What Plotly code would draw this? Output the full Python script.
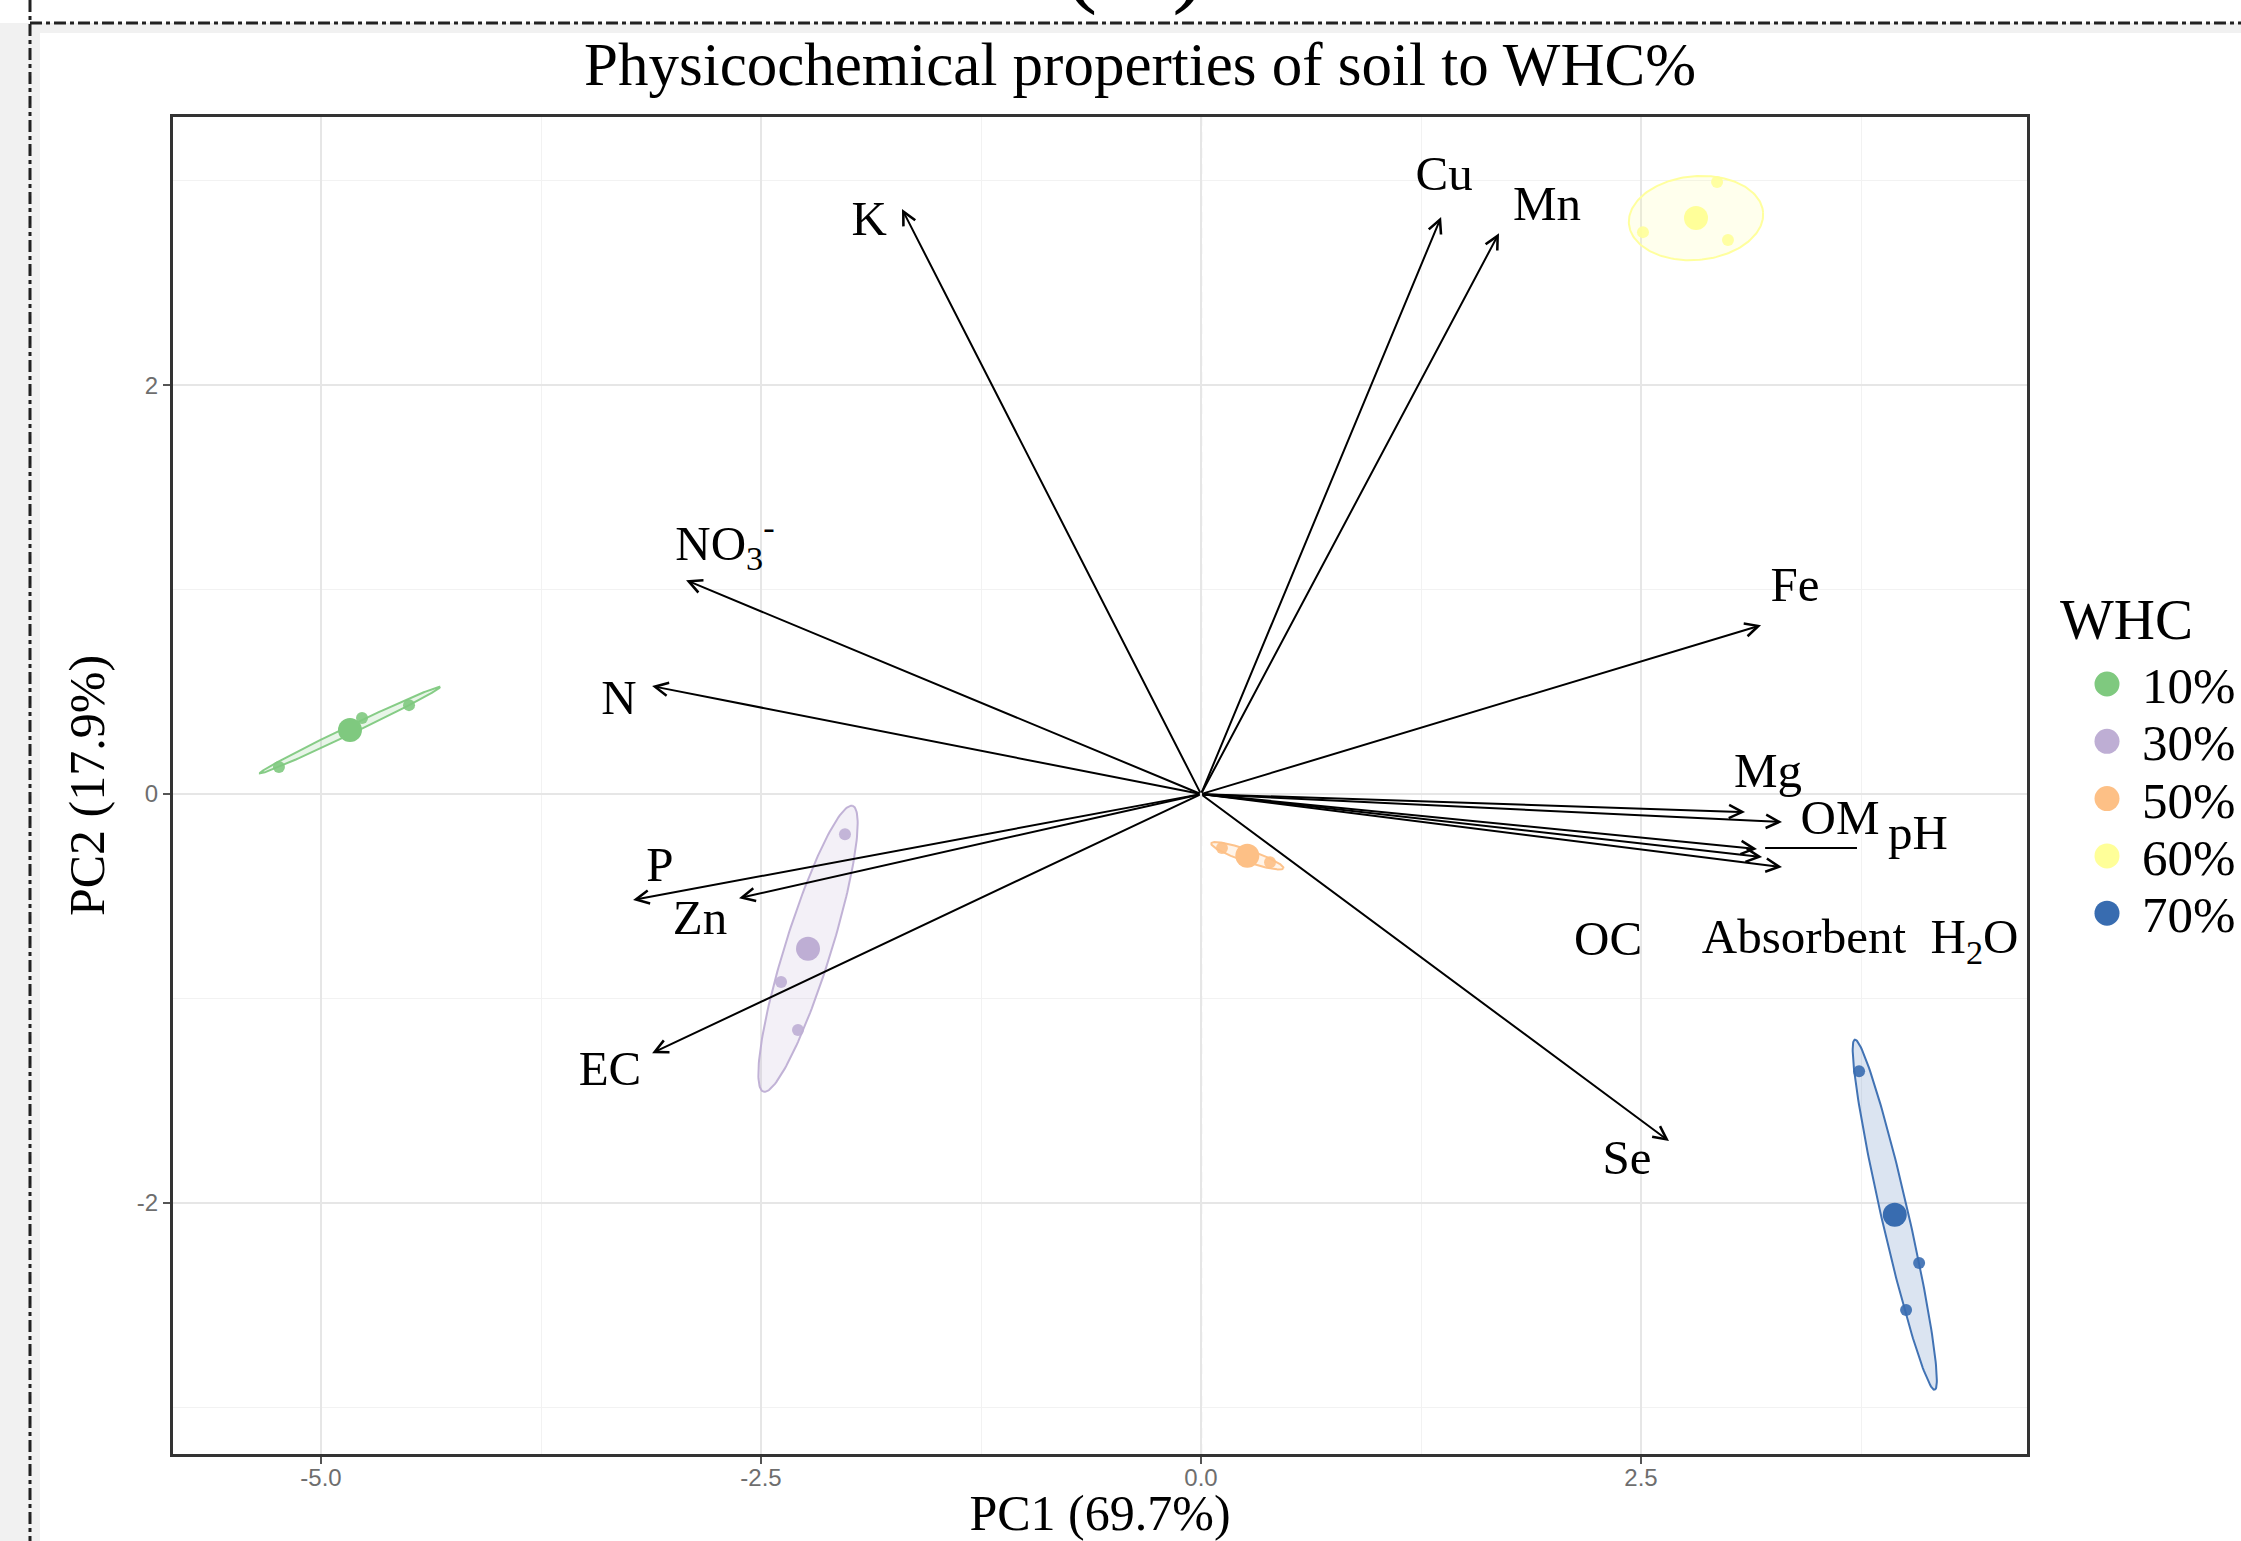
import numpy as np
import plotly.graph_objects as go

# ------------------------------------------------------------------ data
groups = ["10%", "30%", "50%", "60%", "70%"]
group_colors = ["#7FC97F", "#BEAED4", "#FDC086", "#FFFF99", "#386CB0"]

# individual samples (PC1, PC2) per WHC group
sample_pc1 = [
    [-5.239, -4.767, -4.500],
    [-2.023, -2.386, -2.290],
    [0.119, 0.278, 0.392],
    [2.511, 2.994, 2.932],
    [3.739, 4.080, 4.006],
]
sample_pc2 = [
    [0.132, 0.372, 0.435],
    [-0.196, -0.919, -1.154],
    [-0.264, -0.308, -0.333],
    [2.748, 2.709, 2.993],
    [-1.355, -2.293, -2.523],
]

# confidence ellipses: half-axis vectors (PC1, PC2) around the group mean
ellipse_major = [(0.512, 0.211), (0.253, 0.699), (0.205, -0.061), (0.381, 0.029), (0.227, -0.856)]
ellipse_minor = [(0.0098, -0.0177), (0.125, -0.033), (-0.0112, -0.0277), (0.021, -0.204), (0.075, 0.0147)]

# variable loadings (arrow tips)
var_labels = ["K", "Cu", "Mn", "NO<sub>3</sub><sup>-</sup>", "Fe", "N", "Mg", "OM", "pH", "OC",
              "Absorbent  H<sub>2</sub>O", "P", "Zn", "EC", "Se"]
load_pc1 = [-1.699, 1.364, 1.693, -2.926, 3.182, -3.119, 3.091, 3.301, 3.159, 3.188, 3.301, -3.227, -2.625, -3.119, 2.659]
load_pc2 = [2.861, 2.822, 2.743, 1.046, 0.826, 0.528, -0.088, -0.137, -0.269, -0.308, -0.357, -0.518, -0.509, -1.267, -1.697]

# repelled label positions
label_pc1 = [-1.886, 1.381, 1.966, -2.705, 3.375, -3.307, 3.222, 3.631, 4.074, 2.313, 3.745, -3.074, -2.847, -3.358, 2.420]
label_pc2 = [2.792, 3.012, 2.865, 1.207, 1.002, 0.454, 0.097, -0.137, -0.211, -0.729, -0.719, -0.367, -0.626, -1.365, -1.800]

# connector segment for the pH label
ph_segment_pc1 = [3.205, 3.727]
ph_segment_pc2 = [-0.264, -0.264]

x_tick_vals = [-5.0, -2.5, 0.0, 2.5]
x_tick_text = ["-5.0", "-2.5", "0.0", "2.5"]
y_tick_vals = [-2, 0, 2]
y_tick_text = ["-2", "0", "2"]

x_range = [-5.841, 4.693]
y_range = [-3.227, 3.311]

title_text = "Physicochemical properties of soil to WHC%"
x_title = "PC1 (69.7%)"
y_title = "PC2 (17.9%)"
legend_title = "WHC"
caption_fragment = "(   )"

# ------------------------------------------------------------------ layout geometry
W, H = 2241, 1541
L, R, T, B = 173, 214, 117, 87
PW, PH = W - L - R, H - T - B


def px_x(px):
    return (px - L) / PW


def px_y(py):
    return (H - B - py) / PH


SERIF = "Liberation Serif, Times New Roman, serif"
SANS = "Liberation Sans, Arial, sans-serif"


def rgba(hexc, a):
    h = hexc.lstrip("#")
    return "rgba(%d,%d,%d,%s)" % (int(h[0:2], 16), int(h[2:4], 16), int(h[4:6], 16), a)


fig = go.Figure()

t = np.linspace(0, 2 * np.pi, 181)
for i, g in enumerate(groups):
    cx = float(np.mean(sample_pc1[i]))
    cy = float(np.mean(sample_pc2[i]))
    ax_, ay_ = ellipse_major[i]
    bx_, by_ = ellipse_minor[i]
    ex = cx + ax_ * np.cos(t) + bx_ * np.sin(t)
    ey = cy + ay_ * np.cos(t) + by_ * np.sin(t)
    fig.add_trace(go.Scatter(
        x=ex, y=ey, mode="lines", fill="toself",
        fillcolor=rgba(group_colors[i], 0.18),
        line=dict(color=rgba(group_colors[i], 0.95), width=2),
        hoverinfo="skip", showlegend=False, legendgroup=g))
    fig.add_trace(go.Scatter(
        x=sample_pc1[i], y=sample_pc2[i], mode="markers",
        marker=dict(color=group_colors[i], size=12, opacity=0.9),
        showlegend=False, legendgroup=g, name=g))
    fig.add_trace(go.Scatter(
        x=[cx], y=[cy], mode="markers",
        marker=dict(color=group_colors[i], size=24),
        showlegend=False, legendgroup=g, name=g))

# pH connector
fig.add_trace(go.Scatter(x=ph_segment_pc1, y=ph_segment_pc2, mode="lines",
                         line=dict(color="black", width=2), hoverinfo="skip", showlegend=False))

# variable labels
fig.add_trace(go.Scatter(
    x=label_pc1, y=label_pc2, mode="text", text=var_labels,
    textposition="middle center",
    textfont=dict(family=SERIF, size=49, color="black"),
    cliponaxis=True, hoverinfo="skip", showlegend=False))

annotations = []
for x1, y1 in zip(load_pc1, load_pc2):
    annotations.append(dict(
        x=x1, y=y1, ax=0, ay=0, xref="x", yref="y", axref="x", ayref="y",
        text="", showarrow=True, arrowhead=5, arrowsize=1.3, arrowwidth=2,
        arrowcolor="black", standoff=0, startstandoff=0))

# clipped caption fragment at the very top of the page
annotations.append(dict(
    x=px_x(1135), y=px_y(18), xref="paper", yref="paper",
    xanchor="center", yanchor="bottom", text=caption_fragment, showarrow=False,
    font=dict(family=SERIF, size=100, color="black")))

shapes = [
    # page decoration (document frame)
    dict(type="rect", xref="paper", yref="paper", x0=px_x(0), x1=px_x(40), y0=px_y(1541), y1=px_y(23),
         fillcolor="#f1f1f1", line=dict(width=0), layer="below"),
    dict(type="rect", xref="paper", yref="paper", x0=px_x(0), x1=px_x(2241), y0=px_y(33), y1=px_y(23),
         fillcolor="#f1f1f1", line=dict(width=0), layer="below"),
    dict(type="line", xref="paper", yref="paper", x0=px_x(30), x1=px_x(2241), y0=px_y(23), y1=px_y(23),
         line=dict(color="#222", width=3, dash="12px,4px,4px,4px")),
    dict(type="line", xref="paper", yref="paper", x0=px_x(30), x1=px_x(30), y0=px_y(0), y1=px_y(1541),
         line=dict(color="#222", width=3, dash="12px,4px,4px,4px")),
    # reference lines through the origin
    dict(type="line", xref="x", yref="y domain", x0=0, x1=0, y0=0, y1=1,
         line=dict(color="black", width=2, dash="10px,6px"), layer="below"),
    dict(type="line", xref="x domain", yref="y", x0=0, x1=1, y0=0, y1=0,
         line=dict(color="black", width=2, dash="10px,6px"), layer="below"),
]

# ------------------------------------------------------------------ legend (WHC)
LEG_TITLE_X, LEG_TITLE_Y = 2058, 619
LEG_DOT_X, LEG_TEXT_X = 2107, 2140
LEG_Y0, LEG_STEP, DOT_R = 684, 57.3, 12.5
annotations.append(dict(
    x=px_x(LEG_TITLE_X), y=px_y(LEG_TITLE_Y), xref="paper", yref="paper",
    xanchor="left", yanchor="middle", text=legend_title, showarrow=False,
    font=dict(family=SERIF, size=57, color="black")))
for i, g in enumerate(groups):
    yc = LEG_Y0 + i * LEG_STEP
    shapes.append(dict(
        type="circle", xref="paper", yref="paper",
        x0=px_x(LEG_DOT_X - DOT_R), x1=px_x(LEG_DOT_X + DOT_R),
        y0=px_y(yc + DOT_R), y1=px_y(yc - DOT_R),
        fillcolor=group_colors[i], line=dict(width=0)))
    annotations.append(dict(
        x=px_x(LEG_TEXT_X), y=px_y(yc + 2), xref="paper", yref="paper",
        xanchor="left", yanchor="middle", text=g, showarrow=False,
        font=dict(family=SERIF, size=51, color="black")))

fig.update_layout(
    width=W, height=H,
    margin=dict(l=L, r=R, t=T, b=B, autoexpand=False),
    paper_bgcolor="white", plot_bgcolor="white",
    title=dict(text=title_text, x=1140 / W, y=1 - 64 / H, xanchor="center", yanchor="middle",
               xref="container", yref="container",
               font=dict(family=SERIF, size=61, color="black")),
    xaxis=dict(range=x_range, tickvals=x_tick_vals, ticktext=x_tick_text,
               showgrid=True, gridcolor="#e6e6e6", gridwidth=2, zeroline=False,
               minor=dict(dtick=1.25, tick0=0, showgrid=True, gridcolor="#f2f2f2", gridwidth=1),
               showline=True, mirror=True, linecolor="#333", linewidth=3,
               ticks="outside", ticklen=7, tickwidth=2, tickcolor="#555",
               ticklabelstandoff=-7,
               tickfont=dict(family=SANS, size=24, color="#6e6e6e"),
               title=dict(text=x_title, standoff=14, font=dict(family=SERIF, size=50, color="black"))),
    yaxis=dict(range=y_range, tickvals=y_tick_vals, ticktext=y_tick_text,
               showgrid=True, gridcolor="#e6e6e6", gridwidth=2, zeroline=False,
               minor=dict(dtick=1, tick0=0, showgrid=True, gridcolor="#f2f2f2", gridwidth=1),
               showline=True, mirror=True, linecolor="#333", linewidth=3,
               ticks="outside", ticklen=7, tickwidth=2, tickcolor="#555",
               tickfont=dict(family=SANS, size=24, color="#6e6e6e"),
               title=dict(text=y_title, standoff=17, font=dict(family=SERIF, size=50, color="black"))),
    annotations=annotations,
    shapes=shapes,
    showlegend=False,
)

fig.write_html("out.html")
